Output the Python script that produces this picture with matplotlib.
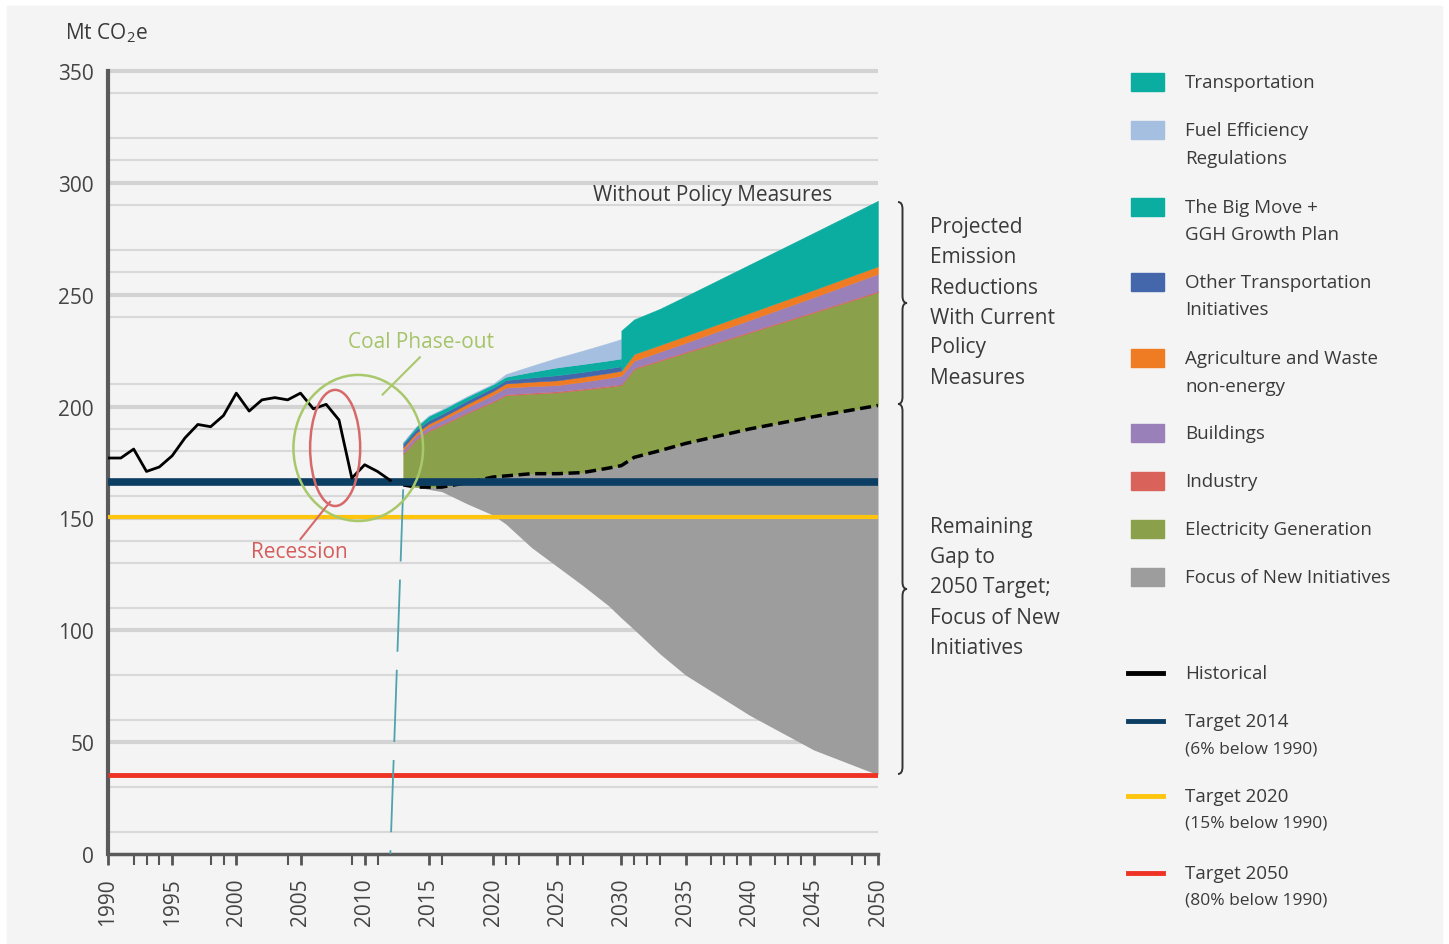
import matplotlib
matplotlib.use("Agg")
import matplotlib.pyplot as plt
from matplotlib.patches import Ellipse, Rectangle, PathPatch
from matplotlib.lines import Line2D
from matplotlib.path import Path
import numpy as np

plt.rcParams['font.family'] = ['Open Sans', 'DejaVu Sans']
plt.rcParams['mathtext.fontset'] = 'custom'
plt.rcParams['mathtext.rm'] = 'Open Sans'
plt.rcParams['mathtext.default'] = 'regular'

# historical emissions (Mt CO2e)
hist_years = list(range(1990, 2013))
historical = [177, 177, 181, 171, 173, 178, 186, 192, 191, 196, 206, 198,
              203, 204, 203, 206, 199, 201, 194, 168, 174, 171, 167]

# projections
proj_years = [2013, 2014, 2015, 2016, 2018, 2020, 2021, 2023, 2025, 2027, 2029,
              2030, 2031, 2033, 2035, 2040, 2045, 2050]
target_path = [165, 164, 163, 162, 156.5, 151.5, 147.5, 137, 128.5, 120, 111,
               105.5, 100.3, 89.5, 80, 62, 46.5, 35.4]
current_policy = [165, 164, 164, 164, 166, 168.5, 169, 170, 170, 170.5, 172.5,
                  173.6, 177.3, 180.3, 183.5, 190, 195.5, 200.5]
electricity = [13.8, 21, 25, 27.5, 31, 33.5, 36, 35.7, 36.3, 37, 36.3,
               35.9, 39.5, 40.1, 40.5, 43, 46.5, 50.6]
industry = [0.5] * 18
buildings = [1.4, 1.5, 1.6, 1.8, 2.2, 2.7, 3.0, 2.9, 2.8, 3.1, 3.5,
             3.8, 3.2, 3.6, 4.0, 5.2, 6.4, 7.7]
agriculture = [1.1, 1.2, 1.2, 1.3, 1.5, 1.7, 1.8, 2.0, 2.1, 2.2, 2.2,
               2.2, 3.0, 3.0, 3.1, 3.2, 3.3, 3.4]
# transport measures up to 2030
other_transport = [1.5, 1.5, 1.5, 1.5, 1.5, 1.5, 1.5, 1.9, 2.3, 2.2, 2.1, 2.0]
big_move = [0.7, 1.2, 2.0, 1.9, 1.7, 1.5, 1.5, 2.5, 3.5, 3.5, 3.5, 3.5]
fuel_efficiency = [0, 0.1, 0.2, 0.2, 0.3, 0.3, 1.2, 2.7, 4.3, 6.0, 7.8, 8.7]
# transportation total from 2030
transport_years = [2030, 2031, 2033, 2035, 2040, 2045, 2050]
transportation = [18, 15.5, 16.2, 17.7, 21.6, 25.5, 29.3]

target_2014 = 166.4
target_2020 = 150.5
target_2050 = 35.4

grid_thin = [10, 30, 60, 80, 110, 130, 140, 160, 180, 190, 210, 240, 260, 270,
             290, 310, 320, 340]
grid_thick = [50, 100, 150, 200, 250, 300, 350]
minor_ticks = [1992, 1993, 1994, 1998, 1999, 2004, 2009, 2011, 2016, 2021, 2022,
               2026, 2027, 2031, 2032, 2033, 2037, 2038, 2039, 2042, 2043, 2044,
               2048, 2049]

TEAL = '#0bada0'
LIGHTBLUE = '#a5bfe0'
BLUE = '#4467ab'
ORANGE = '#ef7b22'
PURPLE = '#9a80b8'
RED = '#d9625a'
GREEN = '#8aa04b'
GRAY = '#9d9d9d'
NAVY = '#0c3e64'
YELLOW = '#ffc40d'
TRED = '#ee3325'
TXT = '#3a3a3a'

W, H = 1449, 945
fig = plt.figure(figsize=(W / 100, H / 100), dpi=100, facecolor='white')
fig.add_artist(Rectangle((7 / W, 0), (W - 14) / W, (H - 7) / H,
                         transform=fig.transFigure, color='#f4f4f4', zorder=-10))


def fx(x):
    return x / W


def fy(y):
    return 1 - y / H


ax = fig.add_axes([fx(108), fy(855), (878 - 108) / W, (855 - 72) / H])
ax.set_facecolor('none')
ax.set_xlim(1990, 2050)
ax.set_ylim(0, 350)

ax.hlines(grid_thin, 1990, 2050, color='#d8d8d8', lw=1.5, zorder=0)
ax.hlines(grid_thick, 1990, 2050, color='#d3d3d3', lw=3, zorder=0, clip_on=False)

yrs = np.array(proj_years, float)
base = np.array(current_policy, float)
ax.fill_between(yrs, target_path, base, color=GRAY, lw=0, zorder=2)

bottom = base.copy()
for vals, c in [(electricity, GREEN), (industry, RED), (buildings, PURPLE),
                (agriculture, ORANGE)]:
    top = bottom + np.array(vals)
    ax.fill_between(yrs, bottom, top, facecolor=c, edgecolor=c, lw=0.3, zorder=2)
    bottom = top

pre = yrs <= 2030
b = bottom[pre]
for vals, c in [(other_transport, BLUE), (big_move, TEAL), (fuel_efficiency, LIGHTBLUE)]:
    t = b + np.array(vals)
    ax.fill_between(yrs[pre], b, t, facecolor=c, edgecolor=c, lw=0.3, zorder=2)
    b = t

post = yrs >= 2030
ax.fill_between(transport_years, bottom[post], bottom[post] + np.array(transportation),
                facecolor=TEAL, edgecolor=TEAL, lw=0.3, zorder=2)

ax.plot(yrs, base, color='black', lw=2.5, dashes=(3.2, 1.6), zorder=4)

ax.hlines(target_2050, 1990, 2050, color=TRED, lw=3.5, zorder=5)
ax.hlines(target_2020, 1990, 2050, color=YELLOW, lw=3, zorder=5)
ax.hlines(target_2014, 1990, 2050, color=NAVY, lw=5.5, zorder=5)
ax.plot(hist_years, historical, color='black', lw=2, zorder=6)

# marker line at start of projection
ax.plot([2013.0, 2012.0], [163, 0], color='#4fa3ad', lw=1.3, dashes=(40, 10), zorder=6)

# annotations
ax.add_patch(Ellipse((2009.5, 181.5), 10.1, 65.3, fill=False, ec='#a9c86b', lw=1.8, zorder=7))
ax.add_patch(Ellipse((2007.7, 181.5), 3.9, 51.9, fill=False, ec='#d66a6a', lw=1.8, zorder=7))
ax.plot([2011.4, 2014.3], [205.4, 222], color='#a9c86b', lw=1.5, zorder=7)
ax.plot([2007.3, 2005.0], [157.4, 140.8], color='#d66a6a', lw=1.5, zorder=7)

for s in ['top', 'right']:
    ax.spines[s].set_visible(False)
ax.spines['left'].set_color('#5a5a5a')
ax.spines['left'].set_linewidth(3)
ax.spines['bottom'].set_color('#5a5a5a')
ax.spines['bottom'].set_linewidth(2.5)

ax.set_yticks(range(0, 351, 50))
ax.tick_params(axis='y', length=0, pad=10, labelsize=15, labelcolor='#444')
ax.set_xticks(range(1990, 2051, 5))
ax.set_xticks(minor_ticks, minor=True)
ax.tick_params(axis='x', which='major', length=8, width=2, color='#555',
               pad=9, labelsize=15, labelcolor='#444', labelrotation=90)
ax.tick_params(axis='x', which='minor', length=8, width=1.5, color='#555')

fig.text(fx(65), fy(33), 'Mt CO$_2$e', fontsize=15, color=TXT, va='center', ha='left')
fig.text(fx(713), fy(196), 'Without Policy Measures', fontsize=15, color=TXT,
         ha='center', va='center')
fig.text(fx(421), fy(343), 'Coal Phase-out', fontsize=15, color='#a5c46a',
         ha='center', va='center')
fig.text(fx(299), fy(552), 'Recession', fontsize=15, color='#d65c5c',
         ha='center', va='center')


def brace(x, y1, y2, w=9, r=7):
    ym = (y1 + y2) / 2
    m = x + w / 2
    pts = [(x, y1), (m, y1), (m, y1 + r), (m, ym - r), (m, ym), (x + w, ym),
           (m, ym), (m, ym + r), (m, y2 - r), (m, y2), (x, y2)]
    codes = [Path.MOVETO, Path.CURVE3, Path.CURVE3, Path.LINETO, Path.CURVE3,
             Path.CURVE3, Path.CURVE3, Path.CURVE3, Path.LINETO, Path.CURVE3,
             Path.CURVE3]
    path = Path([(fx(px), fy(py)) for px, py in pts], codes)
    fig.add_artist(PathPatch(path, transform=fig.transFigure, fill=False,
                             ec='#333', lw=1.4))


brace(898, 203, 405)
brace(898, 405, 775)

side1 = ['Projected', 'Emission', 'Reductions', 'With Current', 'Policy', 'Measures']
side2 = ['Remaining', 'Gap to', '2050 Target;', 'Focus of New', 'Initiatives']
for i, s in enumerate(side1):
    fig.text(fx(930), fy(228 + i * 30), s, fontsize=15, color=TXT, va='center')
for i, s in enumerate(side2):
    fig.text(fx(930), fy(528 + i * 30), s, fontsize=15, color=TXT, va='center')

# legend
patch_items = [
    (['Transportation'], TEAL, 83),
    (['Fuel Efficiency', 'Regulations'], LIGHTBLUE, 131),
    (['The Big Move +', 'GGH Growth Plan'], TEAL, 208),
    (['Other Transportation', 'Initiatives'], BLUE, 283),
    (['Agriculture and Waste', 'non-energy'], ORANGE, 359),
    (['Buildings'], PURPLE, 434),
    (['Industry'], RED, 482),
    (['Electricity Generation'], GREEN, 530),
    (['Focus of New Initiatives'], GRAY, 578),
]
for lines, c, yc in patch_items:
    fig.add_artist(Rectangle((fx(1131), fy(yc + 9)), 33 / W, 18 / H,
                             transform=fig.transFigure, color=c))
    for i, s in enumerate(lines):
        fig.text(fx(1185), fy(yc + i * 27.5), s, fontsize=13.5, color=TXT, va='center')

line_items = [
    (['Historical'], 'black', 674),
    (['Target 2014', '(6% below 1990)'], NAVY, 722),
    (['Target 2020', '(15% below 1990)'], YELLOW, 797),
    (['Target 2050', '(80% below 1990)'], TRED, 874),
]
for lines, c, yc in line_items:
    fig.add_artist(Line2D([fx(1128), fx(1163)], [fy(yc), fy(yc)],
                          transform=fig.transFigure, color=c, lw=3.5))
    for i, s in enumerate(lines):
        fig.text(fx(1185), fy(yc + i * 27), s, fontsize=13.5 if i == 0 else 12.5,
                 color=TXT, va='center')

fig.savefig('out.png', dpi=100, facecolor=fig.get_facecolor())
